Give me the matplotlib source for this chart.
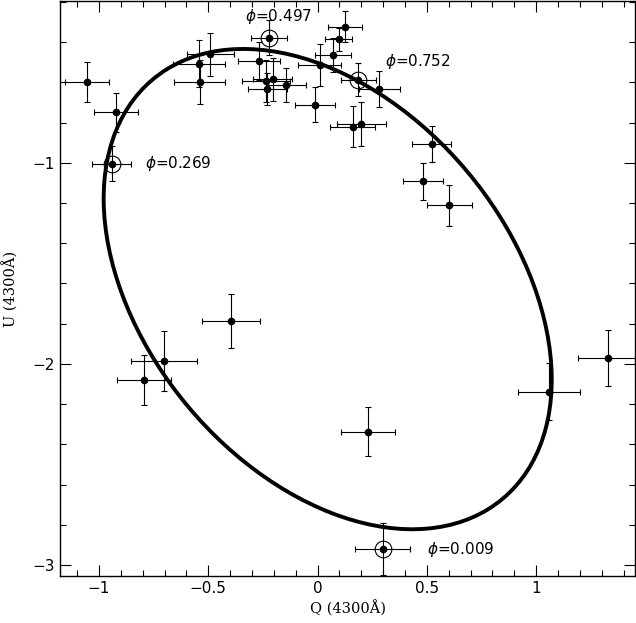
import numpy as np
import matplotlib
matplotlib.use("Agg")
import matplotlib.pyplot as plt
from matplotlib.patches import Ellipse
from matplotlib.ticker import MultipleLocator, FuncFormatter

# Q, U polarisation at 4300A with 1-sigma errors
q = [-1.056, -0.922, -0.942, -0.542, -0.490, -0.539, -0.268, -0.222,
     -0.236, -0.206, -0.231, -0.143, 0.009, -0.011, 0.070, 0.097,
     0.126, 0.187, 0.283, 0.161, 0.200, 0.522, 0.483, 0.603,
     -0.396, -0.702, -0.795, 0.230, 1.059, 1.329, 0.298]
u = [-0.598, -0.750, -1.006, -0.507, -0.461, -0.598, -0.494, -0.378,
     -0.593, -0.585, -0.634, -0.614, -0.515, -0.711, -0.464, -0.386,
     -0.325, -0.588, -0.634, -0.821, -0.808, -0.907, -1.093, -1.212,
     -1.786, -1.984, -2.080, -2.336, -2.138, -1.971, -2.921]
qerr = [0.100, 0.099, 0.088, 0.119, 0.106, 0.117, 0.095, 0.082,
        0.109, 0.090, 0.089, 0.088, 0.099, 0.090, 0.082, 0.061,
        0.078, 0.082, 0.093, 0.103, 0.112, 0.090, 0.093, 0.102,
        0.132, 0.151, 0.124, 0.124, 0.143, 0.137, 0.126]
uerr = [0.098, 0.099, 0.087, 0.117, 0.106, 0.108, 0.093, 0.087,
        0.106, 0.106, 0.080, 0.084, 0.103, 0.088, 0.083, 0.058,
        0.077, 0.082, 0.091, 0.101, 0.111, 0.089, 0.093, 0.102,
        0.133, 0.150, 0.124, 0.124, 0.143, 0.139, 0.129]

# points marked with orbital phase
phase_idx = [2, 7, 17, 30]
phase_lab = ["0.269", "0.497", "0.752", "0.009"]
phase_off = [(24, 0.5), (-17, 15), (19, 13), (32, 0)]  # text offset, points

# fitted ellipse (centre, semi-axes, position angle)
ell_q0, ell_u0 = 0.0464, -1.628
ell_a, ell_b = 1.3174, 0.8598
ell_ang = -56.05

q = np.array(q); u = np.array(u)

fig = plt.figure(figsize=(6.36, 6.23), dpi=100)
ax = fig.add_axes([60/636, 1 - 576/623, 575/636, 575/623])

ax.errorbar(q, u, xerr=qerr, yerr=uerr, fmt="o", color="k", ms=4.5,
            elinewidth=0.8, capsize=2.5, capthick=0.8, zorder=2)
ax.plot(q[phase_idx], u[phase_idx], "o", ms=12, mfc="none", mec="k", mew=0.8)
for i, lab, off in zip(phase_idx, phase_lab, phase_off):
    ax.annotate(r"$\phi$=" + lab, (q[i], u[i]), xytext=off,
                textcoords="offset points", ha="left", va="center", fontsize=11)

ax.add_patch(Ellipse((ell_q0, ell_u0), 2*ell_a, 2*ell_b, angle=ell_ang,
                     fill=False, lw=2.8, color="k", zorder=3))

ax.set_xlim(-1.178, 1.452)
ax.set_ylim(-3.054, -0.196)
ax.xaxis.set_major_locator(MultipleLocator(0.5))
ax.xaxis.set_minor_locator(MultipleLocator(0.1))
ax.yaxis.set_major_locator(MultipleLocator(1))
ax.yaxis.set_minor_locator(MultipleLocator(0.2))
fmt = FuncFormatter(lambda v, p: ("%g" % v).replace("-", "\u2212"))
ax.xaxis.set_major_formatter(fmt)
ax.yaxis.set_major_formatter(fmt)
ax.tick_params(which="both", direction="in", top=True, right=True, width=0.8,
               labelsize=11)
ax.tick_params(which="major", length=8)
ax.tick_params(which="minor", length=4.5)
for s in ax.spines.values():
    s.set_linewidth(1.0)

ax.set_xlabel("Q (4300Å)", family="DejaVu Serif", fontsize=10.5, labelpad=3)
ax.set_ylabel("U (4300Å)", family="DejaVu Serif", fontsize=10.5, labelpad=10)

fig.savefig("out.png", dpi=100)
